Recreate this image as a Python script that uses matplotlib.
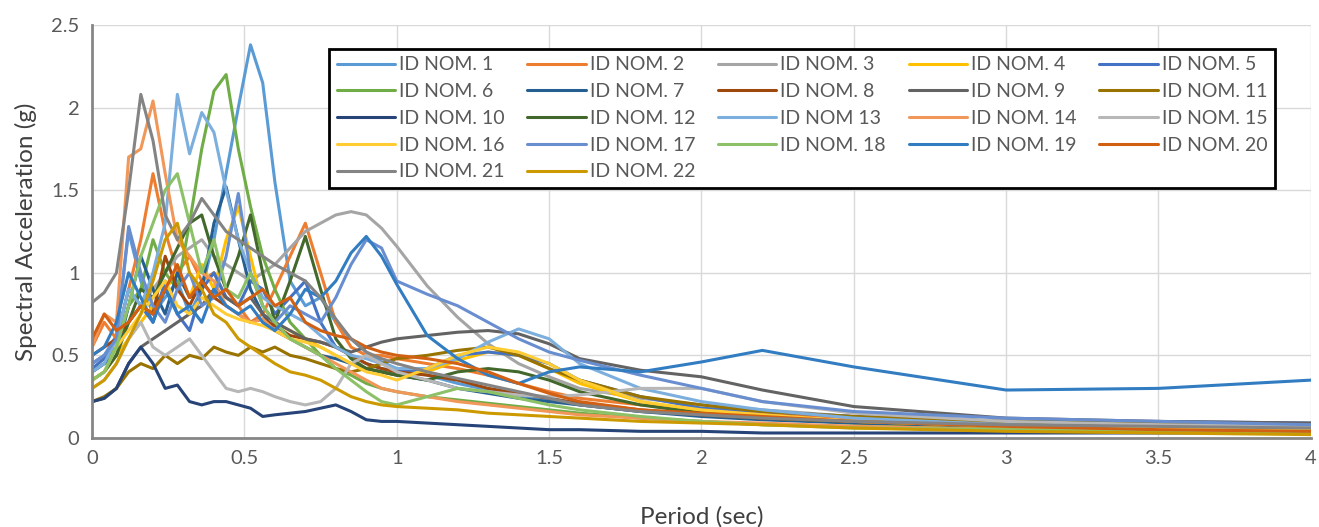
import matplotlib
matplotlib.use("Agg")
from matplotlib import pyplot as plt

# Period grid (sec) shared by every record
period = [0, 0.04, 0.08, 0.12, 0.16, 0.2, 0.24, 0.28, 0.32, 0.36, 0.4, 0.44, 0.48, 0.52, 0.56, 0.6,
          0.65, 0.7, 0.75, 0.8, 0.85, 0.9, 0.95, 1.0,
          1.1, 1.2, 1.3, 1.4, 1.5, 1.6, 1.8, 2.0, 2.2, 2.5, 3.0, 3.5, 4.0]

# Spectral acceleration (g) per record
id_nom_1 = [0.45, 0.5, 0.62, 1.25, 0.95, 0.75, 0.85, 0.95, 0.75, 0.9, 1.2, 1.6, 2.0, 2.38, 2.15, 1.55,
            0.95, 0.8, 0.85, 0.7, 0.6, 0.52, 0.46, 0.42,
            0.38, 0.33, 0.29, 0.26, 0.23, 0.2, 0.16, 0.14, 0.12, 0.1, 0.08, 0.07, 0.06]
id_nom_2 = [0.55, 0.7, 0.6, 0.9, 1.2, 1.6, 1.25, 1.0, 1.1, 0.95, 1.0, 0.85, 0.8, 0.7, 0.75, 0.9,
            1.1, 1.3, 1.0, 0.7, 0.55, 0.5, 0.5, 0.48,
            0.45, 0.42, 0.38, 0.33, 0.28, 0.24, 0.2, 0.17, 0.15, 0.12, 0.09, 0.07, 0.06]
id_nom_3 = [0.45, 0.5, 0.55, 0.7, 0.8, 0.9, 1.0, 1.1, 1.15, 1.2, 1.1, 1.05, 1.0, 0.95, 1.0, 1.05,
            1.15, 1.25, 1.3, 1.35, 1.37, 1.35, 1.27, 1.16,
            0.92, 0.73, 0.57, 0.45, 0.37, 0.3, 0.24, 0.2, 0.17, 0.13, 0.1, 0.08, 0.07]
id_nom_4 = [0.35, 0.4, 0.5, 0.6, 0.7, 0.8, 0.9, 1.0, 0.85, 1.05, 0.9, 1.2, 1.4, 1.1, 0.8, 0.7,
            0.65, 0.6, 0.55, 0.5, 0.45, 0.42, 0.4, 0.38,
            0.4, 0.47, 0.52, 0.5, 0.42, 0.33, 0.22, 0.16, 0.12, 0.09, 0.06, 0.05, 0.04]
id_nom_5 = [0.42, 0.48, 0.6, 0.9, 0.8, 0.7, 0.95, 0.75, 0.65, 0.9, 1.0, 0.85, 0.8, 0.95, 0.9, 0.75,
            0.85, 0.95, 0.7, 0.55, 0.5, 0.45, 0.42, 0.4,
            0.42, 0.5, 0.52, 0.5, 0.45, 0.35, 0.25, 0.18, 0.16, 0.13, 0.1, 0.1, 0.09]
id_nom_6 = [0.4, 0.45, 0.55, 0.8, 0.9, 1.2, 1.0, 0.9, 1.3, 1.75, 2.1, 2.2, 1.75, 1.4, 1.1, 0.9,
            0.7, 0.6, 0.5, 0.42, 0.38, 0.33, 0.3, 0.28,
            0.25, 0.23, 0.21, 0.19, 0.17, 0.15, 0.12, 0.1, 0.08, 0.07, 0.05, 0.04, 0.04]
id_nom_7 = [0.4, 0.45, 0.5, 0.8, 1.1, 0.9, 0.75, 1.0, 0.85, 0.9, 1.3, 1.52, 1.2, 0.9, 0.75, 0.65,
            0.6, 0.55, 0.5, 0.48, 0.45, 0.42, 0.4, 0.38,
            0.35, 0.3, 0.27, 0.24, 0.22, 0.2, 0.16, 0.13, 0.11, 0.09, 0.07, 0.06, 0.05]
id_nom_8 = [0.5, 0.55, 0.6, 0.7, 0.8, 0.75, 1.1, 0.9, 0.8, 0.95, 0.85, 0.8, 0.75, 0.7, 0.72, 0.68,
            0.62, 0.6, 0.58, 0.55, 0.5, 0.45, 0.42, 0.4,
            0.38, 0.35, 0.3, 0.27, 0.24, 0.21, 0.17, 0.14, 0.12, 0.1, 0.08, 0.07, 0.06]
id_nom_9 = [0.22, 0.24, 0.3, 0.45, 0.55, 0.6, 0.65, 0.7, 0.75, 0.8, 0.9, 0.85, 0.8, 0.85, 0.75, 0.7,
            0.65, 0.6, 0.58, 0.55, 0.52, 0.55, 0.58, 0.6,
            0.62, 0.64, 0.65, 0.63, 0.57, 0.48, 0.41, 0.37, 0.29, 0.19, 0.12, 0.1, 0.09]
id_nom_11 = [0.22, 0.25, 0.3, 0.4, 0.45, 0.42, 0.5, 0.45, 0.5, 0.48, 0.55, 0.52, 0.5, 0.55, 0.52, 0.55,
             0.5, 0.48, 0.45, 0.42, 0.4, 0.42, 0.45, 0.48,
             0.5, 0.53, 0.55, 0.5, 0.42, 0.35, 0.25, 0.2, 0.16, 0.13, 0.1, 0.09, 0.08]
id_nom_10 = [0.22, 0.24, 0.3, 0.45, 0.55, 0.45, 0.3, 0.32, 0.22, 0.2, 0.22, 0.22, 0.2, 0.18, 0.13, 0.14,
             0.15, 0.16, 0.18, 0.2, 0.16, 0.11, 0.1, 0.1,
             0.09, 0.08, 0.07, 0.06, 0.05, 0.05, 0.04, 0.04, 0.03, 0.03, 0.03, 0.03, 0.03]
id_nom_12 = [0.35, 0.4, 0.5, 0.7, 0.9, 0.85, 1.0, 1.15, 1.3, 1.35, 1.1, 0.9, 1.1, 1.35, 1.0, 0.7,
             0.95, 1.22, 0.9, 0.6, 0.48, 0.42, 0.4, 0.38,
             0.35, 0.4, 0.42, 0.4, 0.35, 0.28, 0.2, 0.15, 0.12, 0.1, 0.08, 0.07, 0.07]
id_nom_13 = [0.4, 0.45, 0.6, 0.9, 0.8, 1.0, 1.3, 2.08, 1.72, 1.97, 1.85, 1.5, 1.2, 1.0, 0.85, 0.8,
             0.75, 0.7, 0.62, 0.55, 0.5, 0.48, 0.45, 0.42,
             0.42, 0.48, 0.58, 0.66, 0.6, 0.45, 0.3, 0.22, 0.17, 0.12, 0.08, 0.06, 0.05]
id_nom_14 = [0.55, 0.75, 0.7, 1.7, 1.75, 2.04, 1.6, 1.2, 1.1, 1.0, 0.95, 0.8, 0.75, 0.7, 0.72, 0.65,
             0.6, 0.55, 0.5, 0.45, 0.4, 0.35, 0.3, 0.28,
             0.25, 0.22, 0.2, 0.18, 0.16, 0.14, 0.12, 0.1, 0.09, 0.07, 0.05, 0.04, 0.04]
id_nom_15 = [0.3, 0.35, 0.45, 0.6, 0.7, 0.55, 0.5, 0.55, 0.6, 0.5, 0.4, 0.3, 0.28, 0.3, 0.28, 0.25,
             0.22, 0.2, 0.22, 0.3, 0.45, 0.5, 0.45, 0.4,
             0.35, 0.3, 0.28, 0.26, 0.25, 0.26, 0.3, 0.3, 0.22, 0.15, 0.1, 0.08, 0.07]
id_nom_16 = [0.35, 0.4, 0.55, 0.65, 0.75, 0.85, 0.95, 0.8, 0.75, 0.85, 0.8, 0.75, 0.72, 0.7, 0.68, 0.65,
             0.6, 0.58, 0.55, 0.5, 0.45, 0.4, 0.38, 0.35,
             0.42, 0.5, 0.55, 0.52, 0.45, 0.35, 0.22, 0.17, 0.14, 0.1, 0.07, 0.06, 0.05]
id_nom_17 = [0.45, 0.5, 0.6, 1.28, 1.0, 0.8, 0.7, 0.9, 1.0, 0.8, 0.85, 1.1, 1.48, 1.0, 0.8, 0.7,
             0.8, 0.75, 0.7, 0.85, 1.05, 1.2, 1.15, 0.95,
             0.87, 0.8, 0.7, 0.6, 0.52, 0.47, 0.38, 0.3, 0.22, 0.16, 0.12, 0.1, 0.08]
id_nom_18 = [0.35, 0.4, 0.55, 0.8, 1.1, 1.3, 1.5, 1.6, 1.3, 1.0, 1.2, 0.9, 0.85, 1.0, 0.8, 0.7,
             0.6, 0.55, 0.5, 0.42, 0.35, 0.28, 0.22, 0.2,
             0.25, 0.3, 0.28, 0.24, 0.2, 0.17, 0.13, 0.1, 0.08, 0.06, 0.05, 0.04, 0.03]
id_nom_19 = [0.5, 0.55, 0.7, 1.0, 0.85, 0.7, 0.9, 0.75, 0.8, 0.7, 0.9, 0.8, 0.75, 0.8, 0.7, 0.65,
             0.75, 0.9, 0.85, 0.95, 1.12, 1.22, 1.1, 0.93,
             0.62, 0.48, 0.38, 0.33, 0.4, 0.43, 0.4, 0.46, 0.53, 0.43, 0.29, 0.3, 0.35]
id_nom_20 = [0.6, 0.75, 0.65, 0.7, 0.8, 0.75, 0.9, 1.05, 0.85, 0.95, 0.85, 0.9, 0.8, 0.85, 0.9, 0.8,
             0.85, 0.7, 0.65, 0.62, 0.6, 0.55, 0.52, 0.5,
             0.48, 0.45, 0.4, 0.33, 0.27, 0.22, 0.17, 0.15, 0.13, 0.1, 0.07, 0.05, 0.04]
id_nom_21 = [0.82, 0.88, 1.0, 1.5, 2.08, 1.8, 1.35, 1.2, 1.3, 1.45, 1.35, 1.25, 1.2, 1.15, 1.1, 1.05,
             1.0, 0.95, 0.85, 0.72, 0.6, 0.52, 0.48, 0.45,
             0.4, 0.36, 0.32, 0.28, 0.24, 0.2, 0.16, 0.14, 0.12, 0.1, 0.08, 0.07, 0.06]
id_nom_22 = [0.3, 0.35, 0.45, 0.6, 0.75, 0.95, 1.2, 1.3, 1.0, 0.9, 0.75, 0.7, 0.6, 0.55, 0.5, 0.45,
             0.4, 0.38, 0.35, 0.3, 0.25, 0.22, 0.2, 0.19,
             0.18, 0.17, 0.15, 0.14, 0.13, 0.12, 0.1, 0.09, 0.08, 0.06, 0.04, 0.03, 0.02]

labels = ["ID NOM. 1", "ID NOM. 2", "ID NOM. 3", "ID NOM. 4", "ID NOM. 5",
          "ID NOM. 6", "ID NOM. 7", "ID NOM. 8", "ID NOM. 9", "ID NOM. 11",
          "ID NOM. 10", "ID NOM. 12", "ID NOM 13", "ID NOM. 14", "ID NOM. 15",
          "ID NOM. 16", "ID NOM. 17", "ID NOM. 18", "ID NOM. 19", "ID NOM. 20",
          "ID NOM. 21", "ID NOM. 22"]
series = [id_nom_1, id_nom_2, id_nom_3, id_nom_4, id_nom_5,
          id_nom_6, id_nom_7, id_nom_8, id_nom_9, id_nom_11,
          id_nom_10, id_nom_12, id_nom_13, id_nom_14, id_nom_15,
          id_nom_16, id_nom_17, id_nom_18, id_nom_19, id_nom_20,
          id_nom_21, id_nom_22]
colors = ["#5B9BD5", "#ED7D31", "#A5A5A5", "#FFC000", "#4472C4",
          "#70AD47", "#255E91", "#9E480E", "#636363", "#997300",
          "#264478", "#43682B", "#7CAFDD", "#F1975A", "#B7B7B7",
          "#FFCD33", "#698ED0", "#8CC168", "#327DC2", "#D26012",
          "#848484", "#CC9A00"]

plt.rcParams['font.family'] = ['Lato', 'DejaVu Sans']

fig = plt.figure(figsize=(13.19, 5.27), dpi=100)
ax = fig.add_axes([0.0698, 0.169, 0.924, 0.7836])

lines = []
for vals, lab, c in zip(series, labels, colors):
    ln, = ax.plot(period, vals, color=c, lw=2.2, label=lab,
                  solid_joinstyle='round', solid_capstyle='round')
    lines.append(ln)

ax.set_xlim(0, 4)
ax.set_ylim(0, 2.5)
ax.set_xticks([0, 0.5, 1, 1.5, 2, 2.5, 3, 3.5, 4])
ax.set_xticklabels(["0", "0.5", "1", "1.5", "2", "2.5", "3", "3.5", "4"])
ax.set_yticks([0, 0.5, 1, 1.5, 2, 2.5])
ax.set_yticklabels(["0", "0.5", "1", "1.5", "2", "2.5"])
ax.grid(True, color="#D9D9D9", lw=1.0)
ax.set_axisbelow(True)
ax.tick_params(length=0, labelsize=14.5, labelcolor="#595959", pad=9)
for s in ["top", "right"]:
    ax.spines[s].set_visible(False)
for s in ["left", "bottom"]:
    ax.spines[s].set_color("#868686")
    ax.spines[s].set_linewidth(2.0)

ax.set_xlabel("Period (sec)", fontsize=17.5, color="#404040", labelpad=28)
ax.set_ylabel("Spectral Acceleration (g)", fontsize=17.5, color="#404040", labelpad=10)

# legend is filled column by column, so reorder to read across rows
ncol = 5
order = []
for j in range(ncol):
    order += list(range(j, len(lines), ncol))
leg = fig.legend([lines[i] for i in order], [labels[i] for i in order],
                 ncol=ncol, loc="upper left", mode="expand",
                 bbox_to_anchor=(0.242, 0.636, 0.732, 0.29),
                 fontsize=14, handlelength=3.0, handletextpad=0.2,
                 labelspacing=0.5, borderpad=0.4, columnspacing=1.0,
                 fancybox=False, framealpha=1)
leg.get_frame().set_edgecolor("black")
leg.get_frame().set_linewidth(2.0)
for t in leg.get_texts():
    t.set_color("#595959")

fig.savefig("out.png", dpi=100)
